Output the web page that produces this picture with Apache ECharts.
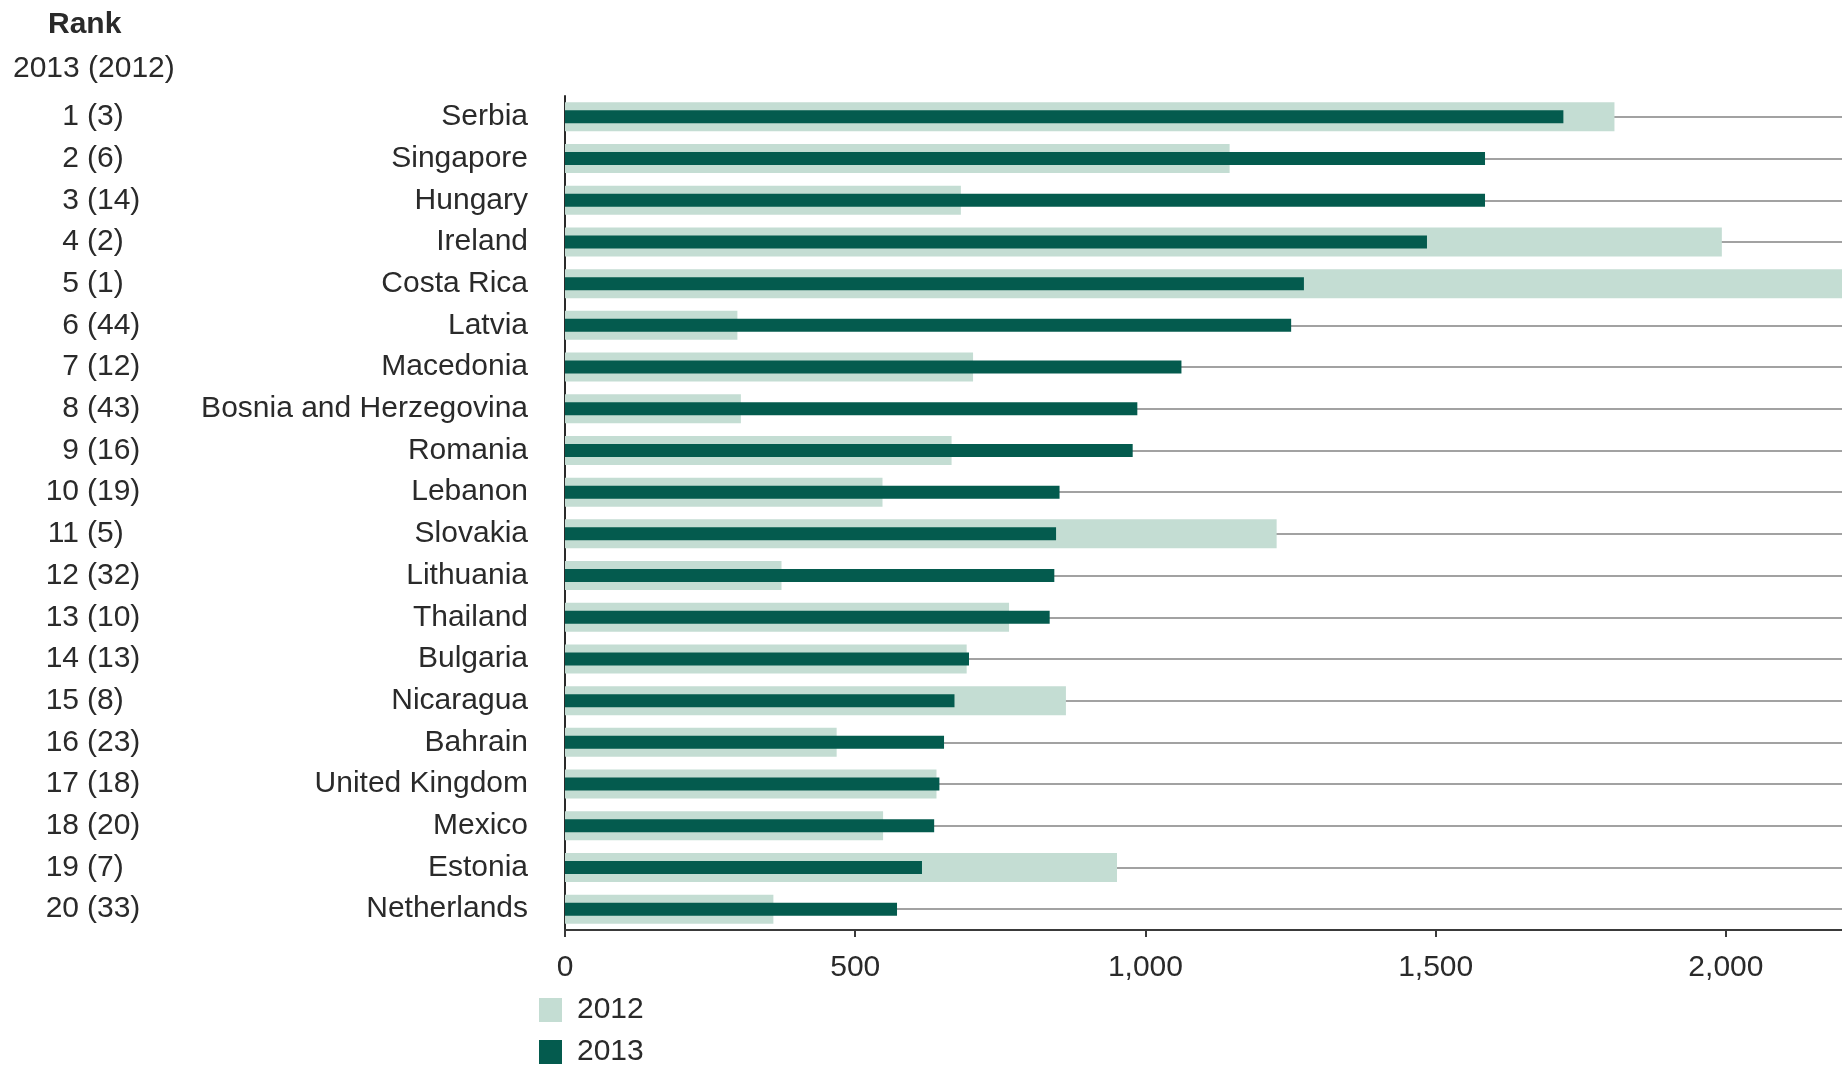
<!DOCTYPE html>
<html>
<head>
<meta charset="utf-8">
<script src="https://cdn.jsdelivr.net/npm/echarts@6/dist/echarts.min.js"></script>
<style>
  html, body { margin: 0; padding: 0; background: #ffffff; }
  #chart { width: 1842px; height: 1065px; }
</style>
</head>
<body>
<div id="chart"></div>
<script>
// ---- Data ----
const countries = ['Serbia', 'Singapore', 'Hungary', 'Ireland', 'Costa Rica', 'Latvia', 'Macedonia',
  'Bosnia and Herzegovina', 'Romania', 'Lebanon', 'Slovakia', 'Lithuania', 'Thailand', 'Bulgaria',
  'Nicaragua', 'Bahrain', 'United Kingdom', 'Mexico', 'Estonia', 'Netherlands'];
const rank2013 = ['1', '2', '3', '4', '5', '6', '7', '8', '9', '10', '11', '12', '13', '14', '15', '16', '17', '18', '19', '20'];
const rank2012 = ['(3)', '(6)', '(14)', '(2)', '(1)', '(44)', '(12)', '(43)', '(16)', '(19)', '(5)', '(32)', '(10)', '(13)', '(8)', '(23)', '(18)', '(20)', '(7)', '(33)'];
const values2012 = [1808, 1145, 682, 1993, 2300, 297, 703, 303, 666, 547, 1226, 373, 765, 692, 863, 468, 640, 548, 951, 359];
const values2013 = [1720, 1585, 1585, 1485, 1273, 1251, 1062, 986, 978, 852, 846, 843, 835, 696, 671, 653, 645, 636, 615, 572];
const xTicks = [0, 500, 1000, 1500, 2000];
const seriesNames = ['2012', '2013'];

// ---- Styling ----
const FONT = "'Liberation Sans', Arial, Helvetica, sans-serif";
const TEXT = '#2a2a2a';
const LIGHT = '#c4ddd3';
const DARK = '#045b4e';
const X_MAX = 2200;

const chart = echarts.init(document.getElementById('chart'), null, { renderer: 'canvas' });

const labelBase = { interval: 0, fontFamily: FONT, fontSize: 30, color: TEXT, padding: [0, 0, 4, 0] };

const legendBase = {
  orient: 'vertical',
  left: 539,
  padding: 0,
  itemWidth: 23,
  itemHeight: 24,
  icon: 'rect',
  textStyle: { fontFamily: FONT, fontSize: 30, color: TEXT, lineHeight: 26, padding: [0, 0, 0, 10] }
};

const option = {
  animation: false,
  backgroundColor: '#ffffff',
  title: [
    { text: 'Rank', left: 48, top: 10, padding: 0,
      textStyle: { fontFamily: FONT, fontSize: 30, fontWeight: 'bold', color: TEXT, lineHeight: 30 } },
    { text: '2013 (2012)', left: 13, top: 54, padding: 0,
      textStyle: { fontFamily: FONT, fontSize: 30, fontWeight: 'normal', color: TEXT, lineHeight: 30 } }
  ],
  legend: [
    Object.assign({}, legendBase, { top: 995, data: [seriesNames[0]] }),
    Object.assign({}, legendBase, { top: 1037, data: [seriesNames[1]] })
  ],
  grid: { left: 565, right: 0, top: 96, bottom: 135, containLabel: false },
  xAxis: {
    type: 'value',
    min: 0,
    max: X_MAX,
    axisLine: { show: true, lineStyle: { color: '#3a3a3a', width: 2 } },
    axisTick: { show: true, length: 7, lineStyle: { color: '#3a3a3a', width: 2 }, customValues: xTicks },
    splitLine: { show: false },
    axisLabel: {
      customValues: xTicks,
      fontFamily: FONT, fontSize: 30, color: TEXT, margin: 23,
      formatter: v => v.toLocaleString('en-US')
    }
  },
  yAxis: [
    {
      type: 'category',
      data: countries,
      inverse: true,
      position: 'left',
      axisLine: { show: true, lineStyle: { color: '#2a2a2a', width: 2 } },
      axisTick: { show: false },
      splitLine: { show: false },
      axisLabel: Object.assign({}, labelBase, { margin: 37, align: 'right' })
    },
    {
      type: 'category',
      data: rank2013,
      inverse: true,
      position: 'left',
      axisLine: { show: false },
      axisTick: { show: false },
      splitLine: { show: false },
      axisLabel: Object.assign({}, labelBase, { margin: 565 - 79, align: 'right' })
    },
    {
      type: 'category',
      data: rank2012,
      inverse: true,
      position: 'left',
      axisLine: { show: false },
      axisTick: { show: false },
      splitLine: { show: false },
      axisLabel: Object.assign({}, labelBase, { margin: 565 - 87, align: 'left' })
    }
  ],
  series: [
    {
      name: '2012',
      type: 'bar',
      yAxisIndex: 0,
      data: values2012,
      barWidth: 29,
      z: 10,
      itemStyle: { color: LIGHT },
      markLine: {
        silent: true,
        symbol: ['none', 'none'],
        label: { show: false },
        lineStyle: { color: '#a2a2a2', width: 2, type: 'solid' },
        data: countries.map(c => ({ yAxis: c }))
      }
    },
    {
      name: '2013',
      type: 'bar',
      yAxisIndex: 1,
      data: values2013,
      barWidth: 13,
      z: 11,
      itemStyle: { color: DARK }
    }
  ]
};

chart.setOption(option);
</script>
</body>
</html>
